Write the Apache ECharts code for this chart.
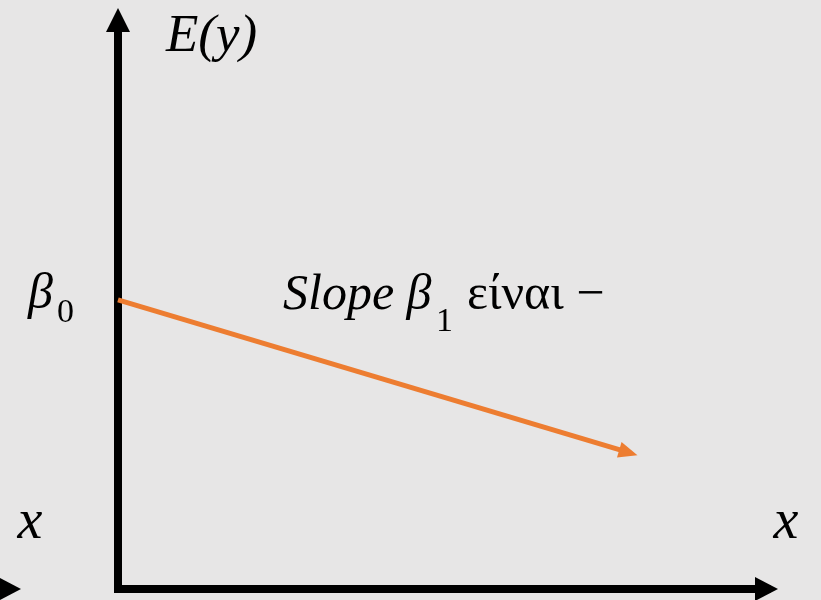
<!DOCTYPE html>
<html>
<head>
<meta charset="utf-8">
<script src="https://cdn.jsdelivr.net/npm/echarts@6/dist/echarts.min.js"></script>
<style>
  html, body { margin: 0; padding: 0; background: #E7E6E6; }
  #chart { width: 821px; height: 600px; }
</style>
</head>
<body>
<div id="chart"></div>
<script>
// Axis extents of the schematic plane
const xRange = [0, 10];
const yRange = [0, 10];

// Regression line: intercept beta0 at x = 0, falling to the right
const trendX = [0, 7.87];
const trendY = [5.08, 2.40];

// Text annotations
const yAxisTitle = 'E(y)';
const xAxisTitle = 'x';
const interceptSymbol = 'β';
const interceptIndex = '0';
const slopeLead = 'Slope β';
const slopeIndex = '1';
const slopeTail = 'είναι −';

const mathFont = '"Liberation Serif", "DejaVu Serif", serif';

function label(text, x, y, size, italic, align) {
  return {
    type: 'text',
    x: x,
    y: y,
    z: 10,
    style: {
      text: text,
      font: (italic ? 'italic ' : '') + size + 'px ' + mathFont,
      fill: '#000',
      align: align || 'left',
      textAlign: align || 'left',
      verticalAlign: 'middle',
      textVerticalAlign: 'middle'
    }
  };
}

const chart = echarts.init(document.getElementById('chart'));

chart.setOption({
  backgroundColor: '#E7E6E6',
  animation: false,
  grid: { left: 118, right: 54.5, top: 20, bottom: 11 },
  xAxis: {
    type: 'value',
    min: xRange[0],
    max: xRange[1],
    axisLine: {
      show: true,
      onZero: false,
      symbol: ['none', 'triangle'],
      symbolSize: [24, 23],
      lineStyle: { color: '#000', width: 8, cap: 'square' }
    },
    axisTick: { show: false },
    axisLabel: { show: false },
    splitLine: { show: false }
  },
  yAxis: {
    type: 'value',
    min: yRange[0],
    max: yRange[1],
    axisLine: {
      show: true,
      onZero: false,
      symbol: ['none', 'triangle'],
      symbolSize: [24, 24],
      lineStyle: { color: '#000', width: 8 }
    },
    axisTick: { show: false },
    axisLabel: { show: false },
    splitLine: { show: false }
  },
  series: [{
    type: 'lines',
    coordinateSystem: 'cartesian2d',
    z: 3,
    symbol: ['none', 'triangle'],
    symbolSize: [0, [16, 19]],
    lineStyle: { color: '#ED7D31', width: 5, opacity: 1, curveness: 0 },
    itemStyle: { color: '#ED7D31' },
    data: [{ coords: trendX.map((x, i) => [x, trendY[i]]) }]
  }],
  graphic: [
    // tip of an arrow entering from the left edge
    {
      type: 'polygon',
      z: 10,
      shape: { points: [[-2, 577], [21, 589], [-2, 601]] },
      style: { fill: '#000' }
    },
    label(yAxisTitle, 166, 37, 53, true),
    label(interceptSymbol, 28, 295, 50, true),
    label(interceptIndex, 57, 313, 34, false),
    label(slopeLead, 283, 296, 50, true),
    label(slopeIndex, 436, 322, 34, false),
    label(slopeTail, 467, 296, 50, false),
    label(xAxisTitle, 30, 523, 56, true, 'center'),
    label(xAxisTitle, 786, 523, 56, true, 'center')
  ]
});
</script>
</body>
</html>
